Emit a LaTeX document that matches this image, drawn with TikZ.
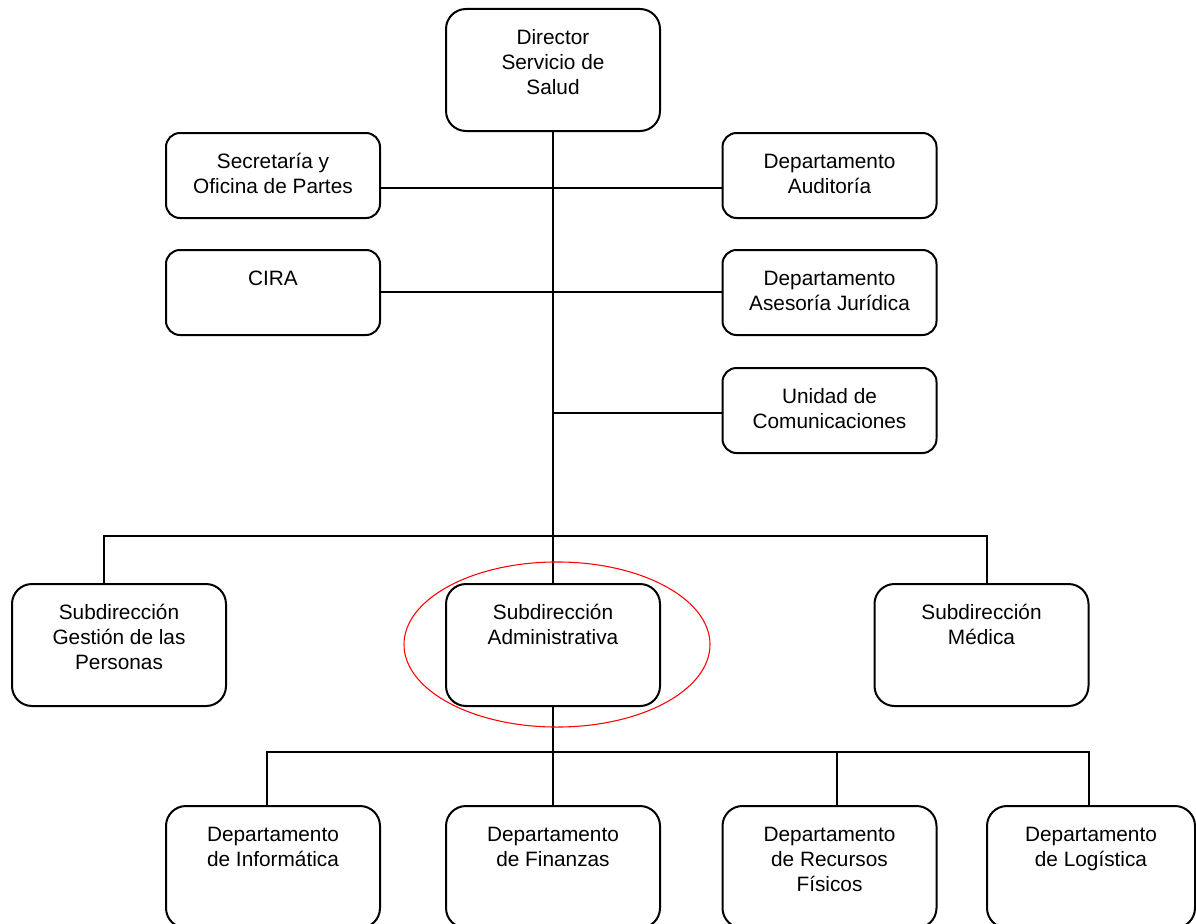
\documentclass[tikz,border=0pt]{standalone}
\usepackage{fontspec}
\setmainfont{Liberation Sans}
\newcommand{\boxtext}[3][160.5pt]{\parbox[t][#2][t]{#1}{\centering\rule{0pt}{26.5pt}#3}}
\begin{document}
\begin{tikzpicture}[x=0.75pt,y=-0.75pt,
  every node/.style={draw,line width=1.5pt,inner sep=0pt,anchor=north,font=\fontsize{15.6}{18.75}\selectfont}]
  \tikzset{link/.style={line width=1.5pt},
           tall/.style={rounded corners=15pt},
           flat/.style={rounded corners=10.5pt}}
  \useasboundingbox (0,0) rectangle (1196,924);

  % director and staff units
  \node[tall] (dir) at (553,8) {\boxtext{91.5pt}{Director\\Servicio de\\Salud}};
  \node[flat] (sec) at (273,132) {\boxtext{63.75pt}{Secretaría y\\Oficina de Partes}};
  \node[flat] (aud) at (829.5,132) {\boxtext{63.75pt}{Departamento\\Auditoría}};
  \node[flat] (cira) at (273,249) {\boxtext{63.75pt}{CIRA}};
  \node[flat] (jur) at (829.5,249) {\boxtext{63.75pt}{Departamento\\Asesoría Jurídica}};
  \node[flat] (com) at (829.5,367) {\boxtext{63.75pt}{Unidad de\\Comunicaciones}};

  % subdirecciones
  \node[tall] (ges) at (119,583) {\boxtext{91.5pt}{Subdirección\\Gestión de las\\Personas}};
  \node[tall] (adm) at (553,583) {\boxtext{91.5pt}{Subdirección\\Administrativa}};
  \node[tall] (med) at (981.5,583) {\boxtext{91.5pt}{Subdirección\\Médica}};

  % departamentos
  \node[tall] (inf) at (273,805) {\boxtext{91.5pt}{Departamento\\de Informática}};
  \node[tall] (fin) at (553,805) {\boxtext{91.5pt}{Departamento\\de Finanzas}};
  \node[tall] (rec) at (829.5,805) {\boxtext{91.5pt}{Departamento\\de Recursos\\Físicos}};
  \node[tall] (log) at (1091,805) {\boxtext[156pt]{91.5pt}{Departamento\\de Logística}};

  \coordinate (ja) at (553,188);
  \coordinate (jb) at (553,292);
  \coordinate (jc) at (553,413);
  \coordinate (ga) at (104,536);
  \coordinate (gm) at (987,536);
  \coordinate (di) at (267,752);
  \coordinate (dr) at (837,752);
  \coordinate (dl) at (1089,752);

  \draw[link] (dir.south) -- (adm.north);
  \draw[link] (sec.east |- ja) -- (aud.west |- ja);
  \draw[link] (cira.east |- jb) -- (jur.west |- jb);
  \draw[link] (jc) -- (com.west |- jc);
  \draw[link] (ga |- ges.north) -- (ga) -- (gm) -- (gm |- med.north);
  \draw[link] (adm.south) -- (fin.north);
  \draw[link] (di |- inf.north) -- (di) -- (dl) -- (dl |- log.north);
  \draw[link] (dr) -- (dr |- rec.north);

  \draw[red,line width=0.8pt] (557,644.5) ellipse [x radius=114.75pt,y radius=61.9pt];
\end{tikzpicture}
\end{document}
